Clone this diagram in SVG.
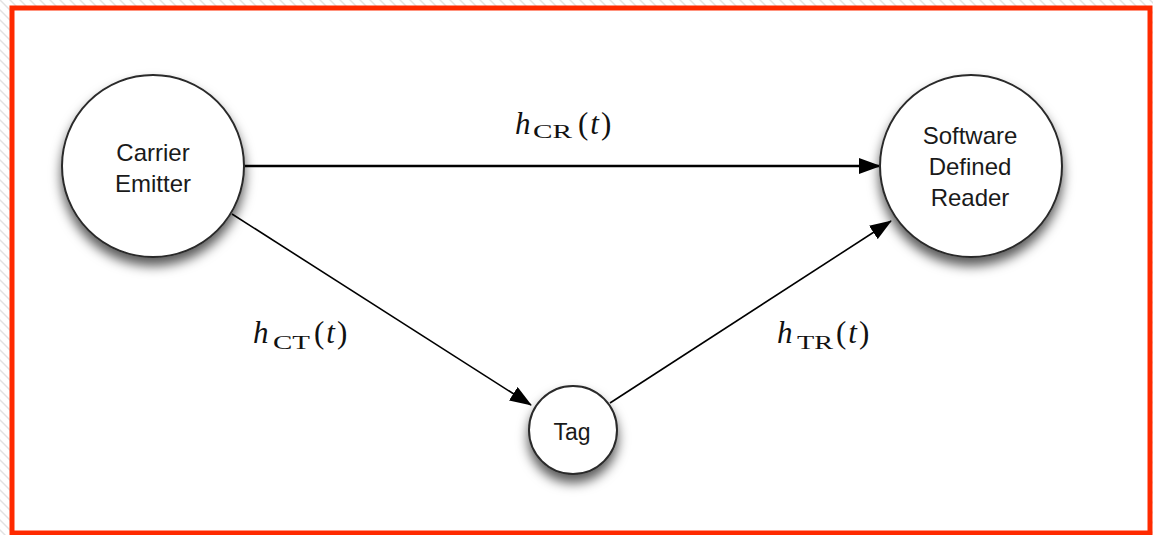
<svg xmlns="http://www.w3.org/2000/svg" width="1153" height="535" viewBox="0 0 1153 535">
<defs>
<pattern id="hatch" width="10" height="10" patternUnits="userSpaceOnUse">
<path d="M-2,-2 L12,12 M-2,8 L2,12 M8,-2 L12,2" stroke="#e2e2e2" stroke-width="1.5"/>
</pattern>
<filter id="shadow" x="-30%" y="-30%" width="160%" height="170%">
<feDropShadow dx="0" dy="8" stdDeviation="6" flood-color="#000" flood-opacity="0.65"/>
</filter>
<marker id="arrow" markerUnits="userSpaceOnUse" markerWidth="22" markerHeight="16" refX="21" refY="8" orient="auto">
<path d="M0,0 L22,8 L0,16 z" fill="#000"/>
</marker>
<style>
.node{fill:#fff;stroke:#2a2a2a;stroke-width:2;filter:url(#shadow)}
.lbl{font-family:"Liberation Sans",Arial,sans-serif;font-size:24px;fill:#1a1a1a;text-anchor:middle}
.math{font-family:"Liberation Serif","Times New Roman",serif;fill:#111}
.mi{font-size:31px}
.it{font-style:italic}
.sub{font-size:18px}
.edge{fill:none;stroke:#000;marker-end:url(#arrow)}
</style>
</defs>
<rect x="0" y="0" width="1153" height="535" fill="#fff"/>
<rect x="0" y="0" width="1153" height="535" fill="url(#hatch)"/>
<rect x="12" y="8" width="1138" height="525" fill="#fff" stroke="#ff2a00" stroke-width="5"/>
<g id="connectors">
<path class="edge" d="M244,166 L880,166" stroke-width="2.5"/>
<path class="edge" d="M232,214 L531,405" stroke-width="1.6"/>
<path class="edge" d="M610,403 L891,221" stroke-width="1.6"/>
</g>
<g id="carrier-emitter">
<circle class="node" cx="153" cy="166" r="91"/>
<text class="lbl" x="153" y="161">Carrier</text>
<text class="lbl" x="153" y="192">Emitter</text>
</g>
<g id="software-defined-reader">
<circle class="node" cx="971" cy="166" r="91"/>
<text class="lbl" x="970" y="144">Software</text>
<text class="lbl" x="970" y="175">Defined</text>
<text class="lbl" x="970" y="206">Reader</text>
</g>
<g id="tag">
<circle class="node" cx="573" cy="430" r="44"/>
<text class="lbl" x="572" y="440" style="font-size:23px">Tag</text>
</g>
<g id="labels" class="math">
<text x="515" y="134" class="mi it">h</text>
<text x="533" y="138" class="sub" textLength="39" lengthAdjust="spacingAndGlyphs">CR</text>
<text x="578" y="134" class="mi">(<tspan class="it" dx="2">t</tspan><tspan dx="2">)</tspan></text>
<text x="253" y="343" class="mi it">h</text>
<text x="273" y="349" class="sub" textLength="37" lengthAdjust="spacingAndGlyphs">CT</text>
<text x="314" y="343" class="mi">(<tspan class="it" dx="2">t</tspan><tspan dx="2">)</tspan></text>
<text x="777" y="343" class="mi it">h</text>
<text x="797" y="349" class="sub" textLength="36" lengthAdjust="spacingAndGlyphs">TR</text>
<text x="836" y="343" class="mi">(<tspan class="it" dx="2">t</tspan><tspan dx="2">)</tspan></text>
</g>
</svg>
